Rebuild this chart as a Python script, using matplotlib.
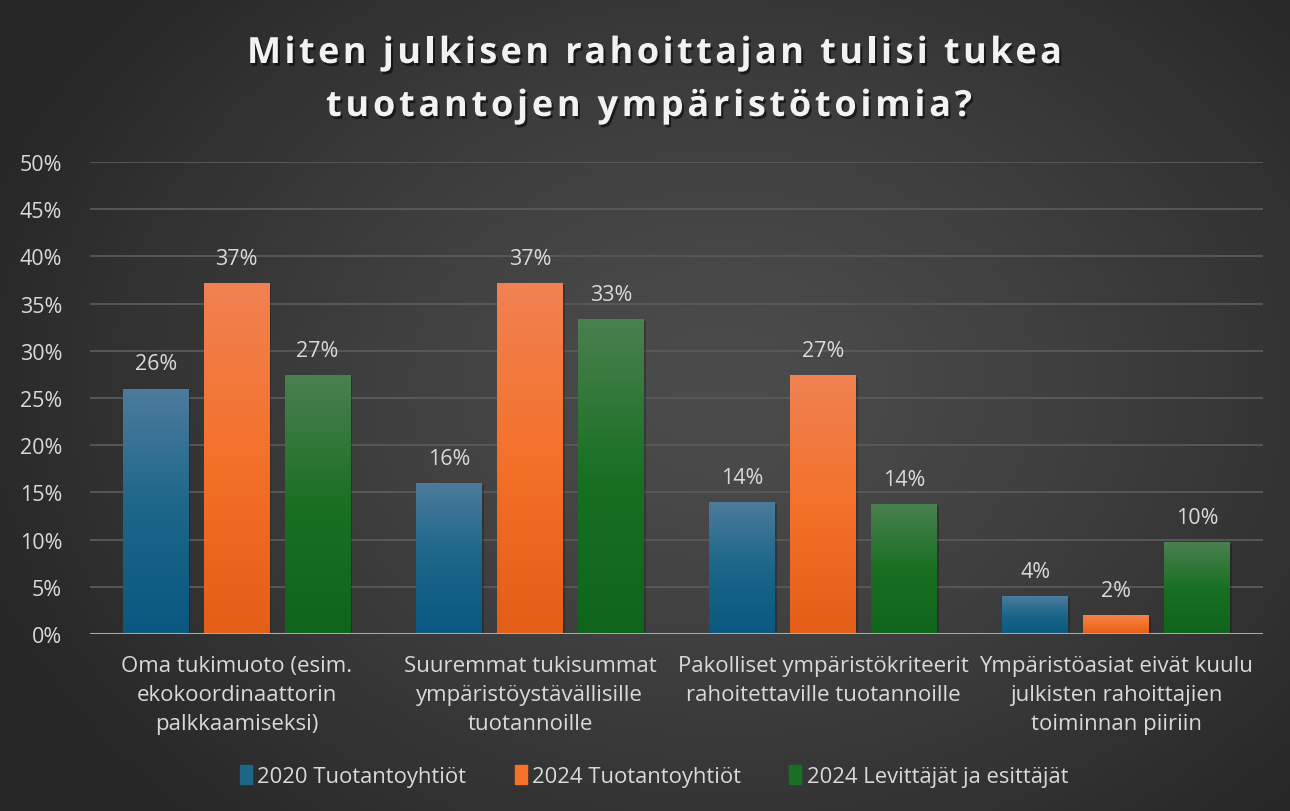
import numpy as np
import matplotlib
matplotlib.use("Agg")
import matplotlib.pyplot as plt
from matplotlib.colors import LinearSegmentedColormap
from matplotlib.patches import Rectangle
import matplotlib.patheffects as pe

# ---------------- data ----------------
categories = [
    "Oma tukimuoto (esim.\nekokoordinaattorin\npalkkaamiseksi)",
    "Suuremmat tukisummat\nympäristöystävällisille\ntuotannoille",
    "Pakolliset ympäristökriteerit\nrahoitettaville tuotannoille",
    "Ympäristöasiat eivät kuulu\njulkisten rahoittajien\ntoiminnan piiriin",
]
series_names = ["2020 Tuotantoyhtiöt", "2024 Tuotantoyhtiöt", "2024 Levittäjät ja esittäjät"]
values_2020_prod = [0.26, 0.16, 0.14, 0.04]
values_2024_prod = [0.372, 0.372, 0.274, 0.02]
values_2024_dist = [0.274, 0.334, 0.138, 0.097]
yticks = [0, 0.05, 0.10, 0.15, 0.20, 0.25, 0.30, 0.35, 0.40, 0.45, 0.50]
title_lines = ["Miten julkisen rahoittajan tulisi tukea", "tuotantojen ympäristötoimia?"]

series_values = [values_2020_prod, values_2024_prod, values_2024_dist]
grad_colors = [
    ["#0a5880", "#1b6689", "#4d7b9c"],
    ["#e35e17", "#f4712a", "#f08252"],
    ["#0f651b", "#197023", "#4b8050"],
]
mid_colors = ["#1b6689", "#f4712a", "#197023"]

W, H = 1290, 812
fig = plt.figure(figsize=(W / 100, H / 100), dpi=100)

# background radial gradient
bg = fig.add_axes([0, 0, 1, 1], zorder=-10)
yy, xx = np.mgrid[0:H, 0:W]
cx, cy = 0.56 * W, 0.48 * H
r = np.sqrt(((xx - cx) / (0.62 * W)) ** 2 + ((yy - cy) / (0.75 * H)) ** 2)
r = np.clip(r, 0, 1)
inner = np.array([0x4c, 0x4c, 0x4c]) / 255
outer = np.array([0x26, 0x26, 0x26]) / 255
img = inner[None, None, :] * (1 - r[..., None] ** 1.3) + outer[None, None, :] * (r[..., None] ** 1.3)
bg.imshow(img, extent=[0, 1, 0, 1], aspect="auto", origin="upper")
bg.set_axis_off()

ax = fig.add_axes([90 / W, 1 - 635 / H, (1263 - 90) / W, (635 - 163) / H])
ax.set_facecolor("none")
for s in ax.spines.values():
    s.set_visible(False)

x = np.arange(len(categories))
bw = 0.225
step = 0.276
txt_col = "#d9d9d9"
font = "Open Sans"

for i, (vals, gc, mc) in enumerate(zip(series_values, grad_colors, mid_colors)):
    offs = x + (i - 1) * step
    bars = ax.bar(offs, vals, width=bw, color=mc, zorder=3, label=series_names[i])
    cmap = LinearSegmentedColormap.from_list("g%d" % i, gc)
    grad = np.linspace(0, 1, 256).reshape(-1, 1)
    for b, v in zip(bars, vals):
        x0 = b.get_x()
        # soft shadow
        ax.add_patch(Rectangle((x0 + 0.006, -0.002), bw, v, color="black", alpha=0.22, zorder=2, lw=0))
        im = ax.imshow(grad, extent=[x0, x0 + bw, 0, v], aspect="auto", cmap=cmap,
                       origin="lower", zorder=3.5, interpolation="bicubic")
        im.set_clip_path(b)
        ax.text(b.get_x() + bw / 2, v + 0.015, "%d%%" % round(v * 100), ha="center", va="bottom",
                color=txt_col, fontsize=15.5, family=font, zorder=5)

ax.set_xlim(-0.5, 3.5)
ax.set_ylim(0, 0.5)
ax.set_yticks(yticks)
ax.set_yticklabels(["%d%%" % round(t * 100) for t in yticks], color=txt_col, fontsize=15.5, family=font)
ax.set_xticks(x)
ax.set_xticklabels(categories, color=txt_col, fontsize=16, family=font, linespacing=1.5)
ax.tick_params(axis="both", length=0)
ax.tick_params(axis="y", pad=20)
ax.tick_params(axis="x", pad=15)
ax.grid(axis="y", color="#5a5a5a", lw=1.3, zorder=0)
ax.set_axisbelow(True)
ax.axhline(0, color="#a8a8a8", lw=2.2, zorder=4)

# legend
handles = [Rectangle((0, 0), 1, 1, color=c) for c in mid_colors]
leg = fig.legend(handles, series_names, loc="center", bbox_to_anchor=(0.507, 1 - 777 / H), ncol=3,
                 frameon=False, handlelength=0.55, handleheight=1.0, handletextpad=0.25,
                 columnspacing=2.2, prop={"family": font, "size": 15.8})
for t in leg.get_texts():
    t.set_color(txt_col)

# title with letter spacing
renderer = fig.canvas.get_renderer()
tprops = dict(fontsize=26, fontweight="bold", family=font, color="#f2f2f2")
targets = [(247, 1062, 64), (326, 972, 117)]


def measure(s):
    t = fig.text(0, 0, s, **tprops)
    w = t.get_window_extent(renderer).width
    t.remove()
    return w


shadow = [pe.withSimplePatchShadow(offset=(1.5, -2), shadow_rgbFace="black", alpha=0.55)]
for line, (xl, xr, yb) in zip(title_lines, targets):
    n = len(line)
    nat = measure(line)
    sp = ((xr - xl) - nat) / (n - 1)
    for i, ch in enumerate(line):
        if ch == " ":
            continue
        pos = measure(line[: i + 1]) - measure(ch)
        px = xl + pos + i * sp
        fig.text(px / W, 1 - yb / H, ch, ha="left", va="baseline", path_effects=shadow, **tprops)

fig.savefig("out.png", dpi=100)
